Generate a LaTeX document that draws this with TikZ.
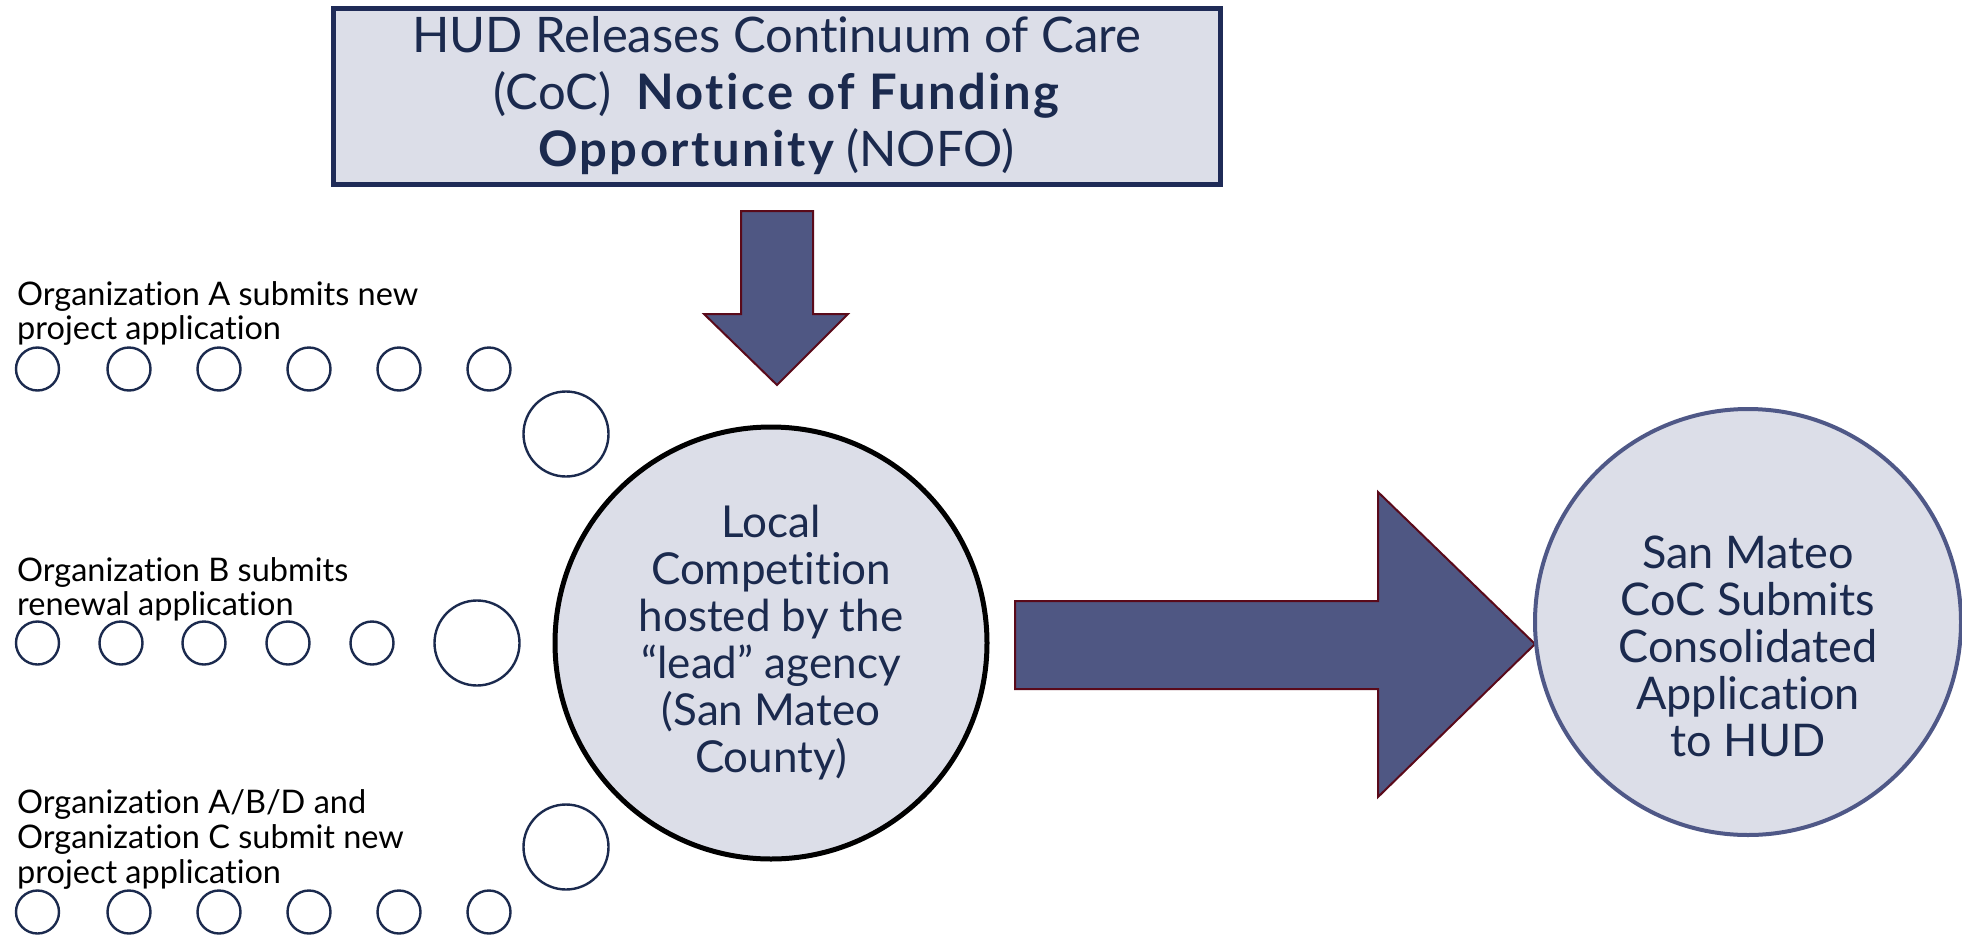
\documentclass[tikz,border=0pt]{standalone}
\usepackage{fontspec}
\setmainfont{Lato}[Ligatures={NoCommon}]
\definecolor{navy}{HTML}{1B2A4E}
\definecolor{boxfill}{HTML}{DCDEE8}
\definecolor{boxline}{HTML}{1F2B57}
\definecolor{arrowfill}{HTML}{4F5783}
\definecolor{arrowline}{HTML}{5A0A1A}
\definecolor{ringline}{HTML}{4F5887}
\newcommand{\heavy}[1]{{\bfseries\addfontfeature{LetterSpace=5}#1}}
\tikzset{
  dot/.style={circle, draw=navy, line width=2.4pt, minimum size=43pt, inner sep=0pt},
  bigdot/.style={circle, draw=navy, line width=2.4pt, minimum size=85pt, inner sep=0pt},
  orglabel/.style={anchor=west, align=left, inner sep=0pt, text=black, font=\fontsize{32.5}{34}\selectfont},
  blockarrow/.style={fill=arrowfill, draw=arrowline, line width=2pt, line join=miter},
}
\begin{document}
\begin{tikzpicture}[x=1pt,y=-1pt]
\useasboundingbox (0,0) rectangle (1962,937);
% top box
\node[draw=boxline, fill=boxfill, line width=5pt, minimum width=887pt, minimum height=176pt, inner sep=0pt,
      align=center, text=navy, font=\fontsize{49}{57}\selectfont] (hud) at (776.5,96)
  {HUD Releases Continuum of Care\\(CoC)\ \ \heavy{Notice of Funding}\\\heavy{Opportunity} (NOFO)};
% down arrow
\draw[blockarrow] (741,211) -- (813,211) -- (813,314) -- (848,314) -- (777,385) -- (704,314) -- (741,314) -- cycle;
% central circle
\node[circle, draw=black, fill=boxfill, line width=5pt, minimum size=432pt, inner sep=0pt,
      align=center, text=navy, font=\fontsize{44}{47}\selectfont] (local) at (771,643)
  {Local\\Competition\\hosted by the\\“lead” agency\\(San Mateo\\County)};
% right arrow
\draw[blockarrow] (1015,601) -- (1378,601) -- (1378,492) -- (1535,644) -- (1378,797) -- (1378,689) -- (1015,689) -- cycle;
% right circle
\node[circle, draw=ringline, fill=boxfill, line width=4pt, minimum size=426pt, inner sep=0pt] (hudapp) at (1748,622) {};
\node[align=center, text=navy, font=\fontsize{45}{47}\selectfont, inner sep=0pt] (hudtext) at (1748,646)
  {San Mateo\\CoC Submits\\Consolidated\\Application\\to HUD};
% row 1
\node[orglabel] (la) at (17,313) {Organization A submits new\\project application};
\foreach \x [count=\i] in {37.5,129,219,309,399,489} \node[dot] (a\i) at (\x,369) {};
\node[bigdot] (abig) at (566,434) {};
% row 2
\node[orglabel] (lb) at (17,589.5) {Organization B submits\\renewal application};
\foreach \x [count=\i] in {37.5,121,204,288,372} \node[dot] (b\i) at (\x,643) {};
\node[bigdot] (bbig) at (477,643) {};
% row 3
\node[orglabel, font=\fontsize{32.5}{35}\selectfont] (lc) at (17,839) {Organization A/B/D and\\Organization C submit new\\project application};
\foreach \x [count=\i] in {37.5,129,219,309,399,489} \node[dot] (c\i) at (\x,912) {};
\node[bigdot] (cbig) at (566,847) {};
\end{tikzpicture}
\end{document}
